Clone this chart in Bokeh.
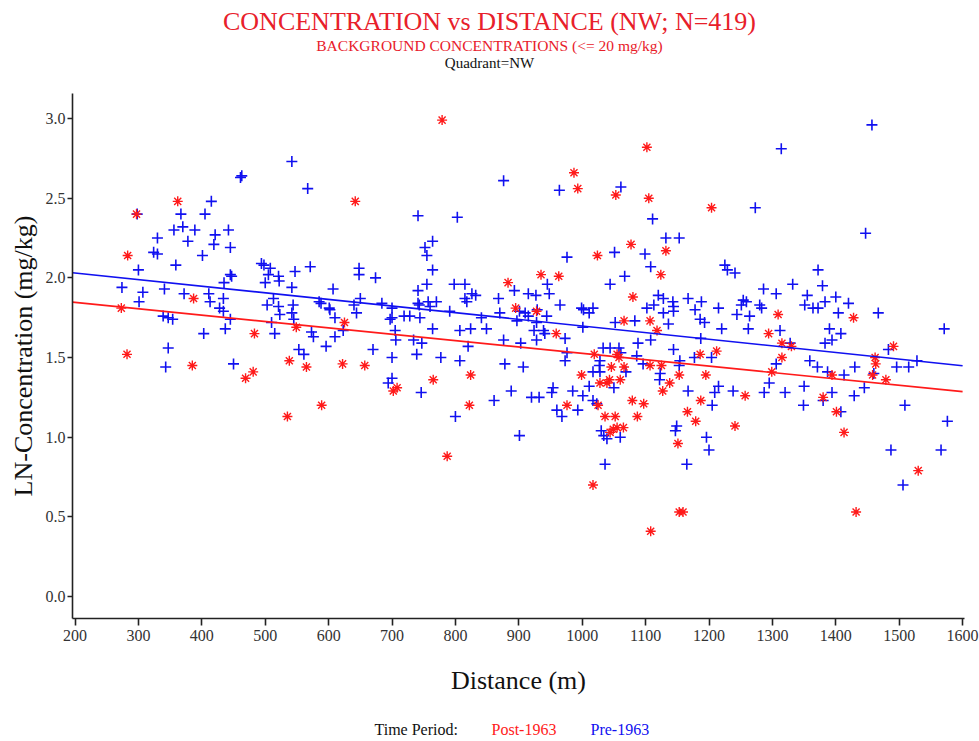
from bokeh.plotting import figure
from bokeh.models import ColumnDataSource, FixedTicker, PrintfTickFormatter, Range1d
from bokeh.layouts import column
from bokeh.core.properties import value
from bokeh.embed import file_html
from bokeh.resources import INLINE
import numpy as np

# ---- data: distance (m) and LN-concentration (mg/kg) by time period ----
pre_dist = [542, 461, 463, 415, 367, 405, 356, 370, 389, 442, 330, 378, 421, 419, 445, 324, 330, 401,
            359, 300, 445, 447, 494, 498, 508, 505, 521, 522, 547, 274, 341, 435, 500, 542, 307, 301,
            372, 411, 413, 434, 513, 428, 434, 503, 521, 523, 544, 542, 339, 347, 354, 445, 510, 437,
            403, 515, 347, 553, 343, 450, 298,
            567, 876, 741, 803, 764, 752, 755, 764, 571, 648, 648, 674, 607, 755, 741, 798, 815, 826,
            832, 815, 818, 868, 893, 585, 588, 601, 602, 640, 650, 644, 684, 700, 700, 697, 719, 728,
            744, 741, 743, 757, 760, 770, 791, 841, 870, 897, 545, 610, 764, 807, 824, 849, 573, 576,
            610, 623, 705, 706, 734, 747, 596, 561, 670, 820, 876, 700, 739, 777, 807, 878, 700, 694,
            746, 888, 861, 800, 901,
            964, 1061, 1111, 1132, 1153, 1051, 1099, 976, 1108, 1067, 1044, 1225, 1229, 1241, 945, 915,
            927, 948, 965, 999, 1002, 1017, 1011, 1120, 1128, 1143, 1144, 1144, 1167, 1188, 1113, 1102,
            1128, 1178, 1215, 1244, 1186, 1193, 1220, 901, 910, 929, 915, 944, 928, 924, 939, 941, 973,
            1001, 1052, 1083, 1136, 1108, 1088, 903, 928, 1187, 1033, 1044, 1058, 1144, 976, 1061, 973,
            1086, 1096, 1154, 1153, 1177, 1204, 907, 1028, 1027, 1017, 1028, 1069, 1123, 1122, 1011,
            1050, 954, 952, 920, 932, 985, 1001, 1017, 1023, 960, 968, 993, 1167, 1215, 1209, 1238,
            1205, 1149, 1147, 1030, 1034, 1039, 1060, 1196, 1200, 1036, 1165,
            1457, 1314, 1273, 1447, 1372, 1332, 1379, 1286, 1306, 1355, 1351, 1364, 1372, 1400, 1383,
            1420, 1254, 1259, 1251, 1280, 1283, 1264, 1404, 1467, 1262, 1312, 1390, 1408, 1394, 1383,
            1571, 1328, 1483, 1306, 1295, 1359, 1371, 1387, 1413, 1430, 1460, 1496, 1515, 1528, 1445,
            1287, 1320, 1350, 1349, 1394, 1380, 1429, 1408, 1509, 1576, 1487, 1566, 1506]
pre_conc = [2.73, 2.63, 2.64, 2.48, 2.40, 2.40, 2.30, 2.32, 2.30, 2.30, 2.25, 2.23, 2.27, 2.21, 2.19,
            2.16, 2.15, 2.14, 2.08, 2.05, 2.02, 2.01, 2.09, 2.08, 2.06, 2.02, 2.01, 1.98, 2.04, 1.94,
            1.93, 1.97, 1.97, 1.94, 1.91, 1.85, 1.90, 1.90, 1.85, 1.87, 1.87, 1.81, 1.79, 1.83, 1.82,
            1.77, 1.83, 1.78, 1.76, 1.75, 1.74, 1.74, 1.72, 1.68, 1.65, 1.65, 1.56, 1.55, 1.44, 1.46,
            2.40,
            2.56, 2.61, 2.39, 2.38, 2.23, 2.19, 2.14, 2.05, 2.07, 2.06, 2.02, 2.00, 1.93, 1.96, 1.92,
            1.96, 1.96, 1.90, 1.89, 1.87, 1.85, 1.87, 1.92, 1.85, 1.84, 1.81, 1.80, 1.83, 1.87, 1.78,
            1.84, 1.81, 1.75, 1.74, 1.76, 1.76, 1.75, 1.84, 1.83, 1.85, 1.82, 1.85, 1.79, 1.75, 1.78,
            1.73, 1.74, 1.75, 1.68, 1.67, 1.68, 1.68, 1.66, 1.63, 1.63, 1.67, 1.67, 1.61, 1.61, 1.59,
            1.57, 1.52, 1.55, 1.57, 1.61, 1.50, 1.52, 1.50, 1.48, 1.46, 1.37, 1.34, 1.28, 1.29, 1.23,
            1.13, 1.01,
            2.55, 2.57, 2.37, 2.25, 2.25, 2.16, 2.15, 2.13, 2.07, 2.01, 1.96, 2.08, 2.05, 2.03, 1.96,
            1.90, 1.89, 1.90, 1.83, 1.81, 1.80, 1.81, 1.78, 1.89, 1.87, 1.85, 1.82, 1.79, 1.87, 1.85,
            1.83, 1.81, 1.78, 1.80, 1.81, 1.77, 1.74, 1.72, 1.68, 1.79, 1.78, 1.80, 1.76, 1.76, 1.72,
            1.67, 1.67, 1.65, 1.62, 1.69, 1.72, 1.73, 1.71, 1.61, 1.59, 1.59, 1.61, 1.62, 1.56, 1.56,
            1.56, 1.55, 1.53, 1.53, 1.48, 1.51, 1.46, 1.48, 1.45, 1.50, 1.50, 1.44, 1.48, 1.45, 1.41,
            1.41, 1.41, 1.40, 1.36, 1.32, 1.31, 1.31, 1.28, 1.25, 1.25, 1.29, 1.26, 1.23, 1.21, 1.17,
            1.13, 1.17, 1.29, 1.32, 1.28, 1.29, 1.20, 1.07, 1.04, 1.04, 1.01, 0.99, 1.00, 1.00, 0.92,
            0.83, 0.83,
            2.96, 2.81, 2.44, 2.28, 2.05, 1.96, 1.95, 1.93, 1.90, 1.89, 1.83, 1.81, 1.81, 1.88, 1.85,
            1.84, 1.86, 1.85, 1.83, 1.83, 1.81, 1.76, 1.78, 1.78, 1.68, 1.67, 1.68, 1.65, 1.61, 1.59,
            1.68, 1.59, 1.55, 1.46, 1.34, 1.48, 1.44, 1.41, 1.39, 1.44, 1.40, 1.44, 1.44, 1.48, 1.31,
            1.28, 1.28, 1.32, 1.20, 1.28, 1.23, 1.26, 1.16, 1.20, 1.10, 0.92, 0.92, 0.70]

post_dist = [297, 362, 283, 387, 273, 483, 549, 282, 538, 385, 469, 481, 535,
             779, 642, 625, 883, 895, 565, 622, 657, 708, 702, 765, 824, 589, 822, 787,
             1102, 987, 993, 1053, 1105, 1204, 1077, 1132, 1024, 1124, 935, 963, 1080, 928, 1066,
             1107, 1118, 959, 1019, 1055, 1058, 1186, 1212, 1046, 1066, 999, 1028, 1039, 1043, 1060,
             1107, 1125, 1153, 1138, 1127, 1195, 1187, 1079, 1097, 976, 1025, 1166, 1087, 1036, 1052,
             1179, 1055, 1065, 1049, 1044, 1241, 1151, 1017, 1153, 1159, 1108,
             1309, 1428, 1294, 1315, 1330, 1491, 1315, 1299, 1394, 1462, 1463, 1458, 1479, 1257, 1380,
             1401, 1413, 1530, 1432]
post_conc = [2.40, 2.48, 2.14, 1.87, 1.81, 1.65, 1.69, 1.52, 1.48, 1.45, 1.37, 1.41, 1.13,
             2.99, 2.48, 1.72, 1.97, 1.81, 1.44, 1.46, 1.45, 1.31, 1.29, 1.36, 1.39, 1.20, 1.20, 0.88,
             2.82, 2.66, 2.56, 2.52, 2.50, 2.44, 2.21, 2.17, 2.14, 2.02, 2.02, 2.01, 1.88, 1.79, 1.73,
             1.73, 1.67, 1.65, 1.52, 1.52, 1.50, 1.52, 1.54, 1.44, 1.44, 1.39, 1.34, 1.34, 1.36, 1.36,
             1.45, 1.45, 1.39, 1.34, 1.29, 1.39, 1.23, 1.23, 1.21, 1.20, 1.20, 1.16, 1.13, 1.13, 1.13,
             1.10, 1.06, 1.06, 1.05, 1.03, 1.07, 0.96, 0.70, 0.53, 0.53, 0.41,
             1.77, 1.75, 1.65, 1.59, 1.57, 1.57, 1.50, 1.41, 1.39, 1.50, 1.46, 1.39, 1.36, 1.26, 1.25,
             1.16, 1.03, 0.79, 0.53]

# linear fits (intercept, slope per metre) for each period
fit_period = ["Post-1963", "Pre-1963"]
fit_intercept = [1.926, 2.114]
fit_slope = [-0.000400, -0.000416]

x_ticks = [200, 300, 400, 500, 600, 700, 800, 900, 1000, 1100, 1200, 1300, 1400, 1500, 1600]
y_ticks = [0.0, 0.5, 1.0, 1.5, 2.0, 2.5, 3.0]

POST_COLOR = "#ff1a1a"
PRE_COLOR = "#1010f0"
TITLE_RED = "#e8202a"
SERIF = "Liberation Serif"

W = 979
HEAD_H, MAIN_H, FOOT_H = 93, 617, 31
F_LEFT, F_RIGHT, F_BOTTOM = 72, 964, 525   # frame edges inside the main figure
X_LO, X_HI = 196.0, 1603.0
Y_LO, Y_HI = -0.138, 3.157


def text_strip(height):
    """A bare figure for text rows; the column aligns its frame with the plot's,
    so its x range is set to page pixels over that frame span (y counts down)."""
    f = figure(width=W, height=height, output_backend="svg", toolbar_location=None,
               x_range=Range1d(F_LEFT, F_RIGHT), y_range=Range1d(height, 0),
               x_axis_location=None, y_axis_location=None, title=None,
               min_border_left=F_LEFT, min_border_right=W - F_RIGHT,
               min_border_top=0, min_border_bottom=0)
    f.outline_line_color = None
    f.grid.visible = False
    return f


# ---- heading ----
head = text_strip(HEAD_H)
head.text(x=[489], y=[21], text=["CONCENTRATION vs DISTANCE (NW; N=419)"],
          text_font=value(SERIF), text_font_size="26px", text_color=TITLE_RED,
          text_align="center", text_baseline="middle")
head.text(x=[489], y=[45], text=["BACKGROUND CONCENTRATIONS (<= 20 mg/kg)"],
          text_font=value(SERIF), text_font_size="15.5px", text_color=TITLE_RED,
          text_align="center", text_baseline="middle")
head.text(x=[489], y=[62], text=["Quadrant=NW"],
          text_font=value(SERIF), text_font_size="15px", text_color="#111111",
          text_align="center", text_baseline="middle")

# ---- scatter plot ----
p = figure(width=W, height=MAIN_H, output_backend="svg", toolbar_location=None,
           x_range=Range1d(X_LO, X_HI), y_range=Range1d(Y_LO, Y_HI), title=None,
           min_border_left=F_LEFT, min_border_right=W - F_RIGHT,
           min_border_top=0, min_border_bottom=MAIN_H - F_BOTTOM)
p.outline_line_color = None
p.grid.visible = False

pre_src = ColumnDataSource(dict(x=pre_dist, y=pre_conc))
post_src = ColumnDataSource(dict(x=post_dist, y=post_conc))

p.scatter("x", "y", source=pre_src, marker="cross", size=11, line_color=PRE_COLOR, line_width=1.6)
p.scatter("x", "y", source=post_src, marker="asterisk", size=10, line_color=POST_COLOR, line_width=1.4)

line_x = np.array([X_LO, 1600.0])
for period, b0, b1 in zip(fit_period, fit_intercept, fit_slope):
    color = POST_COLOR if period == "Post-1963" else PRE_COLOR
    p.line(line_x, b0 + b1 * line_x, line_color=color, line_width=1.6)

for ax in (p.xaxis[0], p.yaxis[0]):
    ax.axis_line_color = "#222222"
    ax.axis_line_width = 1.6
    ax.major_tick_line_color = "#222222"
    ax.major_tick_line_width = 1.6
    ax.major_tick_in = 0
    ax.minor_tick_line_color = None
    ax.major_label_text_font = SERIF
    ax.major_label_text_font_size = "16px"
    ax.major_label_text_color = "#333333"
    ax.axis_label_text_font = SERIF
    ax.axis_label_text_font_style = "normal"
    ax.axis_label_text_color = "#111111"

p.xaxis.ticker = FixedTicker(ticks=x_ticks)
p.xaxis.major_tick_out = 7
p.xaxis.major_label_standoff = 4
p.xaxis.axis_label = "Distance (m)"
p.xaxis.axis_label_text_font_size = "26px"
p.xaxis.axis_label_standoff = 22

p.yaxis.ticker = FixedTicker(ticks=y_ticks)
p.yaxis.formatter = PrintfTickFormatter(format="%.1f")
p.yaxis.major_tick_out = 5
p.yaxis.major_label_standoff = 2
p.yaxis.axis_label = "LN-Concentration (mg/kg)"
p.yaxis.axis_label_text_font_size = "26px"
p.yaxis.axis_label_standoff = 5

# ---- legend line ----
foot = text_strip(FOOT_H)
foot.text(x=[374], y=[19], text=["Time Period:"], text_font=value(SERIF), text_font_size="16px",
          text_color="#111111", text_align="left", text_baseline="middle")
foot.text(x=[491], y=[19], text=["Post-1963"], text_font=value(SERIF), text_font_size="16px",
          text_color=POST_COLOR, text_align="left", text_baseline="middle")
foot.text(x=[590], y=[19], text=["Pre-1963"], text_font=value(SERIF), text_font_size="16px",
          text_color=PRE_COLOR, text_align="left", text_baseline="middle")

page = column(head, p, foot, spacing=0)
open("out.html", "w").write(file_html(page, INLINE))
